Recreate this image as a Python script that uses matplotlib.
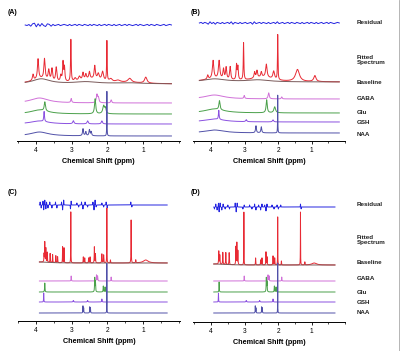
import numpy as np
import matplotlib
matplotlib.use("Agg")
import matplotlib.pyplot as plt

plt.rcParams['font.family'] = ['Liberation Sans', 'DejaVu Sans']

# trace order inside every panel
trace_names = ["Residual", "Baseline", "GABA", "Glu", "GSH", "NAA"]
trace_colors = ["#2424e0", "#7a5a5a", "#d070d8", "#4aa04a", "#8a50e0", "#5050a8"]
fit_color = "#e82a34"

# vertical level of each trace (pixels above the ppm axis)
A_levels = [116, 57, 38, 27, 17, 5]
B_levels = [118, 59, 42, 28, 19, 8]
C_levels = [116, 58, 40, 29, 19, 8]
D_levels = [115, 57, 41, 30, 20, 9]

# peaks: (ppm, height px, half width ppm)
A_base = [(3.85, 5, 0.3), (2.6, 2, 0.4), (1.4, 1, 0.5)]
A_fit = [(4.08, 6, 0.02), (3.94, 20, 0.02), (3.76, 20, 0.02), (3.64, 10, 0.02),
         (3.55, 12, 0.02), (3.43, 14, 0.02), (3.30, 6, 0.02), (3.24, 19, 0.015),
         (3.20, 14, 0.015), (3.02, 42, 0.01), (2.90, 3, 0.03), (2.78, 4, 0.03),
         (2.68, 7, 0.02), (2.60, 5, 0.02), (2.50, 7, 0.02), (2.40, 3, 0.3),
         (2.35, 13, 0.02), (2.25, 6, 0.03), (2.13, 9, 0.03), (2.01, 40, 0.008),
         (1.90, 3, 0.05), (1.70, 2, 0.08), (1.37, 4, 0.06), (0.92, 6, 0.04)]
A_gaba = [(3.9, 5, 0.3), (3.01, 4, 0.015), (2.29, 8, 0.02), (2.25, 5, 0.02), (1.89, 3, 0.015)]
A_glu = [(3.9, 4, 0.3), (3.75, 9, 0.02), (2.34, 15, 0.02), (2.10, 8, 0.03), (2.05, 5, 0.02)]
A_gsh = [(3.9, 3, 0.3), (3.77, 10, 0.012), (2.95, 3, 0.02), (2.55, 3, 0.02), (2.15, 3, 0.02)]
A_naa = [(3.9, 4, 0.3), (2.68, 7, 0.015), (2.60, 4, 0.015), (2.50, 6, 0.015),
         (2.45, 4, 0.015), (2.01, 45, 0.004)]
A_resid = [0, -0.5, 0.5, -1.2, 1.2, 1.8, -1.8, 1.2, -1.2, 1.5, -0.6, -1.5, 1.2, 0.6,
           -1.2, 0.6, -0.6, 0, 0.6, -0.6, 0, 0.6, 0, -0.6, 0.6, -0.6, 0, 0.6, -0.6,
           0.6, 0, -0.6, 0.6, 0, -0.6, 0.6, -0.6, 0.6, 0, -0.6, 0.6, -0.6, 0, 0.6,
           -0.6, 0.6, 0, -0.6, 0.6, -0.6, 0, 0.6, -0.6, 0, 0.6, -0.6, 0.6, 0, -0.6,
           0, 0.6, -0.6, 0.6, 0, -0.6, 0, 0.6, -0.6, 0.6, 0, -0.6, 0.6, 0, -0.6, 0,
           0.6, -0.6, 0, 0.6, 0]

B_base = [(3.9, 3, 0.4), (2.6, 2, 0.4)]
B_fit = [(4.10, 4, 0.02), (3.94, 18, 0.025), (3.76, 18, 0.025), (3.63, 10, 0.02),
         (3.55, 12, 0.02), (3.43, 13, 0.02), (3.24, 15, 0.015), (3.20, 13, 0.015),
         (3.03, 37, 0.01), (2.70, 6, 0.02), (2.63, 7, 0.02), (2.50, 5, 0.02),
         (2.40, 3, 0.3), (2.35, 13, 0.025), (2.13, 8, 0.03), (2.01, 45, 0.008),
         (1.42, 12, 0.07), (0.90, 6, 0.04)]
B_gaba = [(3.9, 4, 0.35), (3.01, 3, 0.015), (2.28, 6, 0.02), (1.89, 2, 0.015)]
B_glu = [(3.9, 4, 0.35), (3.75, 9, 0.02), (2.34, 13, 0.02), (2.10, 6, 0.03)]
B_gsh = [(3.9, 3, 0.35), (3.77, 9, 0.012), (2.95, 2, 0.02), (2.15, 2, 0.02)]
B_naa = [(3.9, 3, 0.35), (2.66, 7, 0.015), (2.50, 6, 0.015), (2.01, 38, 0.004)]
B_resid = [0, 0.6, -0.6, 0.6, 0, -1.2, 1.2, -0.6, 0.6, -1.2, 0.6, 0, -0.6, 0.6, -0.6,
           0, 0.6, -0.6, 1.2, -1.2, 0.6, 0, -0.6, 0.6, -0.6, 0, 0.6, -0.6, 0, 0.6,
           -1.2, 1.2, -0.6, 0, 0.6, -0.6, 0.6, 0, -0.6, 0.6, -0.6, 0, 0.6, -0.6, 1.2,
           -0.6, 0, 0.6, -0.6, 0, 0.6, -0.6, 0.6, 0, -0.6, 0.6, 0, -0.6, 0.6, -0.6,
           0, 0.6, -0.6, 0.6, 0, -0.6, 0.6, -0.6, 0, 0.6, -0.6, 0, 0.6, -0.6, 0.6,
           0, -0.6, 0, 0.6, 0]

C_base = [(3.9, 1, 0.3)]
C_fit = [(3.77, 8, 0.005), (3.75, 20, 0.005), (3.72, 14, 0.005), (3.68, 10, 0.005),
         (3.60, 9, 0.005), (3.53, 8, 0.005), (3.44, 7, 0.005), (3.39, 6, 0.005),
         (3.25, 16, 0.004), (3.21, 15, 0.004), (3.02, 51, 0.003), (2.67, 6, 0.005),
         (2.63, 5, 0.005), (2.52, 5, 0.005), (2.48, 6, 0.005), (2.36, 16, 0.005),
         (2.33, 9, 0.005), (2.15, 9, 0.006), (2.10, 8, 0.006), (2.01, 55, 0.003),
         (1.91, 3, 0.005), (1.33, 43, 0.004), (1.20, 3, 0.006), (0.92, 3, 0.08)]
C_gaba = [(3.01, 5, 0.005), (2.30, 6, 0.006), (2.27, 5, 0.006), (1.89, 4, 0.005)]
C_glu = [(3.75, 9, 0.006), (2.35, 14, 0.006), (2.33, 10, 0.006), (2.11, 6, 0.006), (2.06, 5, 0.006)]
C_gsh = [(3.78, 9, 0.004), (2.95, 1.5, 0.01), (2.55, 1.5, 0.01), (2.15, 3, 0.006)]
C_naa = [(2.68, 7, 0.004), (2.66, 5, 0.004), (2.49, 6, 0.004), (2.47, 5, 0.004), (2.01, 50, 0.002)]
C_resid = [(3.92, -2), (3.88, 3), (3.85, -3), (3.80, 4), (3.78, -5), (3.75, 5), (3.72, -4),
           (3.70, 3), (3.66, -3), (3.61, 3), (3.55, -3), (3.45, 3), (3.41, -3), (3.28, 3),
           (3.25, -5), (3.22, 5), (3.03, -4), (3.01, 4), (2.85, 2), (2.80, -2), (2.72, 3),
           (2.68, -4), (2.62, 3), (2.55, -2), (2.40, 3), (2.37, -5), (2.34, 5), (2.31, -2),
           (2.15, 2), (2.10, -2), (2.03, 3), (2.00, -3), (1.34, 3), (1.31, -2)]

D_base = [(3.9, 1, 0.3)]
D_fit = [(3.77, 13, 0.006), (3.74, 9, 0.006), (3.65, 12, 0.006), (3.56, 12, 0.006),
         (3.46, 12, 0.006), (3.26, 18, 0.005), (3.23, 22, 0.005), (3.20, 14, 0.005),
         (3.02, 53, 0.003), (2.67, 7, 0.005), (2.52, 5, 0.005), (2.48, 7, 0.005),
         (2.36, 13, 0.005), (2.33, 8, 0.005), (2.15, 9, 0.006), (2.10, 7, 0.006),
         (2.01, 48, 0.003), (1.90, 4, 0.005), (1.33, 53, 0.003), (1.20, 3, 0.006),
         (0.92, 2, 0.08)]
D_gaba = [(3.01, 5, 0.005), (2.30, 6, 0.006), (2.27, 5, 0.006), (1.89, 4, 0.005)]
D_glu = [(3.76, 10, 0.005), (2.35, 14, 0.006), (2.33, 10, 0.006), (2.11, 6, 0.006), (2.06, 5, 0.006)]
D_gsh = [(3.78, 9, 0.004), (2.95, 1.5, 0.01), (2.55, 1.5, 0.01), (2.15, 3, 0.006)]
D_naa = [(2.68, 7, 0.004), (2.66, 5, 0.004), (2.49, 6, 0.004), (2.47, 5, 0.004), (2.01, 50, 0.002)]
D_resid = [(3.90, -2), (3.86, 3), (3.82, -3), (3.78, 4), (3.76, -5), (3.73, 4), (3.68, -3),
           (3.64, 3), (3.58, -2), (3.50, 2), (3.45, -2), (3.28, 4), (3.25, -5), (3.22, 4),
           (3.05, -2), (3.01, 2), (2.85, 2), (2.78, -2), (2.70, 3), (2.66, -3), (2.58, 2),
           (2.52, -3), (2.48, 3), (2.40, 2), (2.36, -4), (2.33, 3), (2.18, 2), (2.12, -2),
           (2.03, 2), (1.99, -2), (1.92, 2), (1.33, 3), (1.31, -2)]

# panel geometry in pixels: left, right, top, axis y, xlim left, xlim right, data range
panel_box = {"A": (17, 180, 15, 141, 4.53, -0.04, 4.3, 0.2),
             "B": (193, 345, 15, 141, 4.54, 0.24, 4.35, 0.17),
             "C": (18, 180, 195, 321, 4.5, -0.04, 3.9, 0.32),
             "D": (193, 345, 195, 322, 4.54, 0.24, 3.92, 0.3)}

W, H = 400, 351
fig = plt.figure(figsize=(W / 100, H / 100), dpi=100)


def lor(x, peaks):
    y = np.zeros_like(x)
    for c, h, w in peaks:
        y += h / (1 + ((x - c) / w) ** 2)
    return y


def draw_panel(key, levels, base, fit, mets, resid, smooth_resid):
    l, r, t, ay, x0, x1, d0, d1 = panel_box[key]
    ax = fig.add_axes([l / W, 1 - ay / H, (r - l) / W, (ay - t) / H])
    ax.set_xlim(x0, x1)
    ax.set_ylim(0, ay - t)
    x = np.linspace(d0, d1, 4000)

    # residual
    if smooth_resid:
        xr = np.linspace(d0, d1, len(resid))
        ax.plot(xr, levels[0] + np.array(resid, float), color=trace_colors[0], lw=0.7, clip_on=False)
    else:
        spikes = [(c, a, 0.004) for c, a in resid]
        ax.plot(x, levels[0] + lor(x, spikes), color=trace_colors[0], lw=0.7, clip_on=False)

    # fitted spectrum over baseline
    b = levels[1] + lor(x, base)
    ax.plot(x, b + lor(x, fit), color=fit_color, lw=0.7, clip_on=False)
    ax.plot(x, b, color=trace_colors[1], lw=0.7, clip_on=False)

    for i, pk in enumerate(mets):
        ax.plot(x, levels[2 + i] + lor(x, pk), color=trace_colors[2 + i], lw=0.7, clip_on=False)

    for s in ["top", "left", "right"]:
        ax.spines[s].set_visible(False)
    ax.spines["bottom"].set_linewidth(0.7)
    ax.set_yticks([])
    ax.set_xticks([4, 3, 2, 1])
    ax.set_xticks([4.5, 3.5, 2.5, 1.5, 0.5, 0.0], minor=True)
    ax.tick_params(axis="x", which="major", length=2.5, width=0.6, labelsize=4.8, pad=2)
    ax.tick_params(axis="x", which="minor", length=1.5, width=0.5)
    ax.patch.set_alpha(0)
    ax.set_xlabel("Chemical Shift (ppm)", fontsize=5.2, fontweight="bold", labelpad=3)
    return ax


draw_panel("A", A_levels, A_base, A_fit, [A_gaba, A_glu, A_gsh, A_naa], A_resid, True)
draw_panel("B", B_levels, B_base, B_fit, [B_gaba, B_glu, B_gsh, B_naa], B_resid, True)
draw_panel("C", C_levels, C_base, C_fit, [C_gaba, C_glu, C_gsh, C_naa], C_resid, False)
draw_panel("D", D_levels, D_base, D_fit, [D_gaba, D_glu, D_gsh, D_naa], D_resid, False)

# panel letters
for lab, px, py in [("(A)", 8, 12), ("(B)", 191, 12), ("(C)", 8, 193), ("(D)", 191, 193)]:
    fig.text(px / W, 1 - py / H, lab, fontsize=5, fontweight="bold", va="center")

# right-hand labels
right_labels = ["Residual", "Fitted\nSpectrum", "Baseline", "GABA", "Glu", "GSH", "NAA"]
B_label_y = [23, 60, 82, 99, 112, 123, 134]
D_label_y = [205, 240, 263, 279, 292, 303, 313]
for ys in (B_label_y, D_label_y):
    for txt, py in zip(right_labels, ys):
        fig.text(357 / W, 1 - py / H, txt, fontsize=4.5, fontweight="bold",
                 va="center", ha="left", color="#222222", linespacing=1.1)

# thin frame line on the right edge
fig.add_artist(plt.Line2D([0.9965, 0.9965], [0, 1], color="#aaaaaa", lw=0.6))

fig.savefig("out.png", dpi=100)
